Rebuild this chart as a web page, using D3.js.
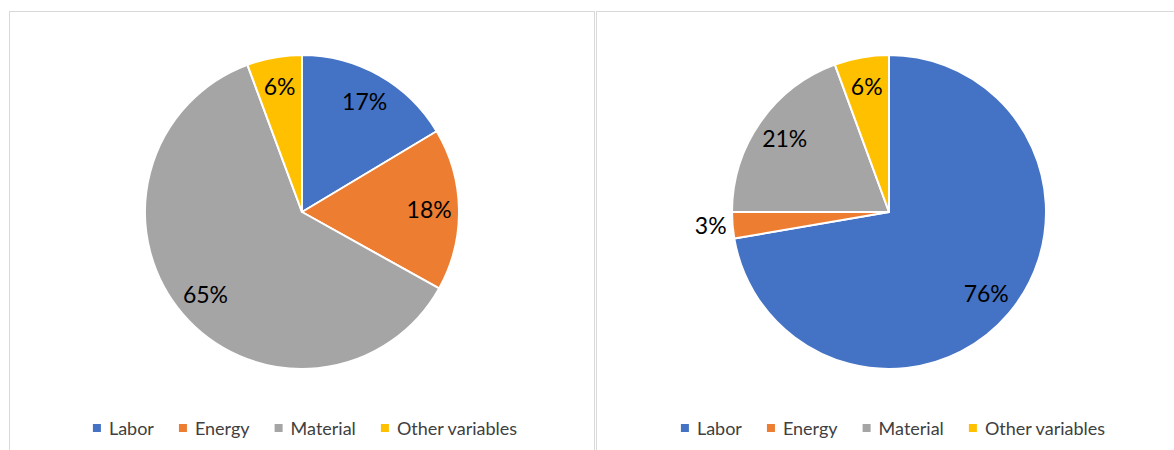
<!DOCTYPE html>
<html><head><meta charset="utf-8">
<script src="https://cdn.jsdelivr.net/npm/d3@7"></script>
<style>body{margin:0;background:#fff}svg{display:block}</style>
</head><body>
<svg id="chart" width="1174" height="450"></svg>
<script>
const categories = ["Labor", "Energy", "Material", "Other variables"];
const colors = ["#4472C4", "#ED7D31", "#A5A5A5", "#FFC000"];
const leftValues = [16.4, 16.7, 61.25, 5.65];
const leftLabels = ["17%", "18%", "65%", "6%"];
const rightValues = [72.3, 2.7, 19.4, 5.6];
const rightLabels = ["76%", "3%", "21%", "6%"];

const svg = d3.select("#chart");
const FONT = "Lato, 'Open Sans', sans-serif";

// panel borders
const border = "#D9D9D9";
svg.append("rect").attr("x", 9.5).attr("y", 11.5).attr("width", 585).attr("height", 460)
  .attr("fill", "none").attr("stroke", border);
svg.append("rect").attr("x", 596.5).attr("y", 11.5).attr("width", 600).attr("height", 460)
  .attr("fill", "none").attr("stroke", border);

const R = 157;
const pie = d3.pie().sort(null).value(d => d);
const arc = d3.arc().innerRadius(0).outerRadius(R);
const labelArc = d3.arc().innerRadius(R * 0.81).outerRadius(R * 0.81);

function drawPie(cx, cy, values, labels) {
  const g = svg.append("g").attr("transform", `translate(${cx},${cy})`);
  const arcs = pie(values);
  g.selectAll("path").data(arcs).join("path")
    .attr("d", arc)
    .attr("fill", (d, i) => colors[i])
    .attr("stroke", "#fff").attr("stroke-width", 2).attr("stroke-linejoin", "round");
  g.selectAll("text").data(arcs).join("text")
    .each(function (d, i) {
      const t = d3.select(this);
      const small = (d.endAngle - d.startAngle) < 0.25;
      if (small) {
        const a = (d.startAngle + d.endAngle) / 2;
        const r = R + 6;
        t.attr("x", r * Math.sin(a)).attr("y", -r * Math.cos(a))
         .attr("text-anchor", Math.sin(a) < 0 ? "end" : "start");
      } else {
        const c = labelArc.centroid(d);
        t.attr("x", c[0]).attr("y", c[1]).attr("text-anchor", "middle");
      }
    })
    .attr("dy", "0.36em")
    .attr("font-family", FONT).attr("font-size", 23).attr("fill", "#000")
    .text((d, i) => labels[i]);
}

function drawLegend(cx, y) {
  const g = svg.append("g");
  const items = categories.map((c, i) => {
    const it = g.append("g");
    it.append("rect").attr("width", 8).attr("height", 8).attr("y", -11).attr("fill", colors[i]);
    const tx = it.append("text").attr("x", 16).attr("font-family", FONT).attr("font-size", 18)
      .attr("fill", "#404040").text(c);
    return { it, w: 16 + tx.node().getComputedTextLength() };
  });
  const gap = 25;
  const total = d3.sum(items, d => d.w) + gap * (items.length - 1);
  let x = cx - total / 2;
  items.forEach(d => { d.it.attr("transform", `translate(${x},${y})`); x += d.w + gap; });
}

drawPie(302, 212, leftValues, leftLabels);
drawPie(889, 212, rightValues, rightLabels);
drawLegend(305, 435);
drawLegend(893, 435);
</script>
</body></html>
